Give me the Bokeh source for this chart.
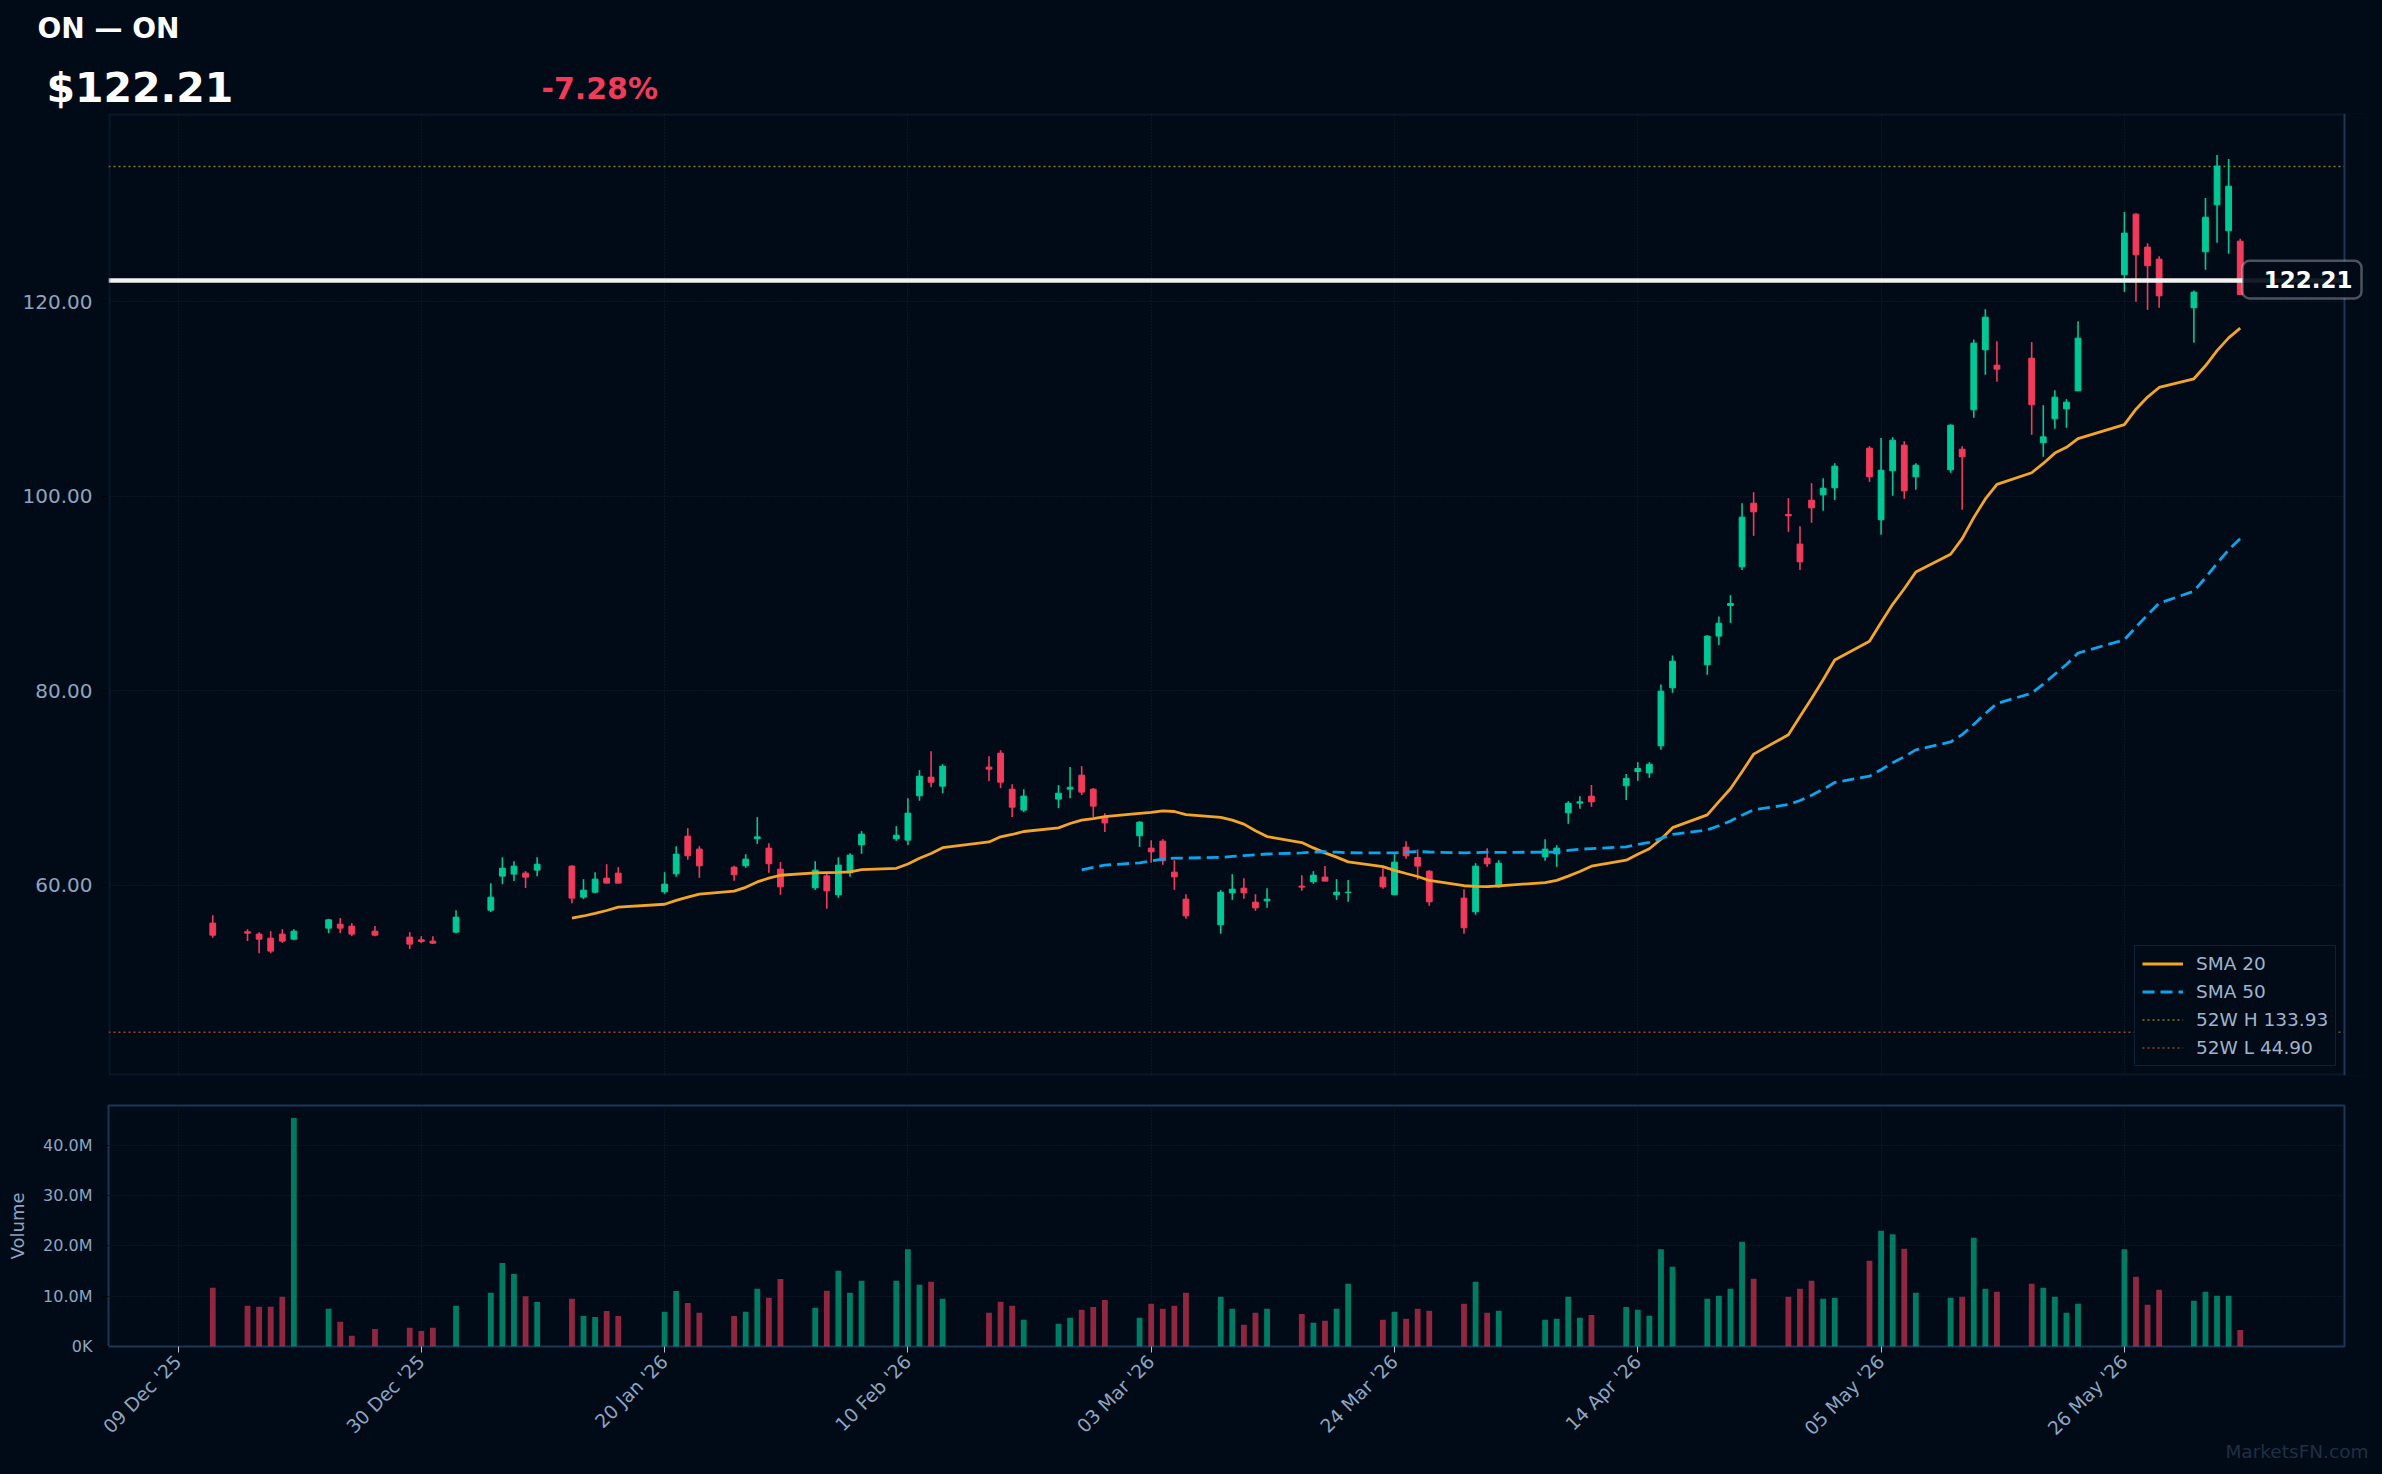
import numpy as np
import pandas as pd
from bokeh.plotting import figure
from bokeh.models import (ColumnDataSource, Range1d, FixedTicker, NumeralTickFormatter,
                          CustomJSTickFormatter, DatetimeTickFormatter, Label, Title,
                          BoxAnnotation, Span, Legend, LegendItem)
from bokeh.layouts import column
from bokeh.embed import file_html
from bokeh.resources import INLINE

# ---------------- data ----------------
ticker_symbol = "ON"
company_name = "ON"
last_price = 122.21
change_pct = -7.28
high_52w = 133.93
low_52w = 44.90

dates = [
    "2025-12-12", "2025-12-15", "2025-12-16", "2025-12-17", "2025-12-18", "2025-12-19",
    "2025-12-22", "2025-12-23", "2025-12-24", "2025-12-26", "2025-12-29", "2025-12-30", "2025-12-31",
    "2026-01-02", "2026-01-05", "2026-01-06", "2026-01-07", "2026-01-08", "2026-01-09",
    "2026-01-12", "2026-01-13", "2026-01-14", "2026-01-15", "2026-01-16",
    "2026-01-20", "2026-01-21", "2026-01-22", "2026-01-23",
    "2026-01-26", "2026-01-27", "2026-01-28", "2026-01-29", "2026-01-30",
    "2026-02-02", "2026-02-03", "2026-02-04", "2026-02-05", "2026-02-06",
    "2026-02-09", "2026-02-10", "2026-02-11", "2026-02-12", "2026-02-13",
    "2026-02-17", "2026-02-18", "2026-02-19", "2026-02-20",
    "2026-02-23", "2026-02-24", "2026-02-25", "2026-02-26", "2026-02-27",
    "2026-03-02", "2026-03-03", "2026-03-04", "2026-03-05", "2026-03-06",
    "2026-03-09", "2026-03-10", "2026-03-11", "2026-03-12", "2026-03-13",
    "2026-03-16", "2026-03-17", "2026-03-18", "2026-03-19", "2026-03-20",
    "2026-03-23", "2026-03-24", "2026-03-25", "2026-03-26", "2026-03-27",
    "2026-03-30", "2026-03-31", "2026-04-01", "2026-04-02",
    "2026-04-06", "2026-04-07", "2026-04-08", "2026-04-09", "2026-04-10",
    "2026-04-13", "2026-04-14", "2026-04-15", "2026-04-16", "2026-04-17",
    "2026-04-20", "2026-04-21", "2026-04-22", "2026-04-23", "2026-04-24",
    "2026-04-27", "2026-04-28", "2026-04-29", "2026-04-30", "2026-05-01",
    "2026-05-04", "2026-05-05", "2026-05-06", "2026-05-07", "2026-05-08",
    "2026-05-11", "2026-05-12", "2026-05-13", "2026-05-14", "2026-05-15",
    "2026-05-18", "2026-05-19", "2026-05-20", "2026-05-21", "2026-05-22",
    "2026-05-26", "2026-05-27", "2026-05-28", "2026-05-29",
    "2026-06-01", "2026-06-02", "2026-06-03", "2026-06-04", "2026-06-05",
]

opens = [
    56.13, 55.24, 55.00, 54.58, 55.00, 54.48,
    55.61, 56.02, 55.82, 55.30, 54.69, 54.41, 54.28,
    55.20, 57.46, 60.96, 61.17, 61.27, 61.58,
    61.99, 58.80, 59.31, 60.75, 61.27,
    59.35, 61.20, 65.07, 63.74,
    61.88, 62.02, 64.80, 63.84, 61.68,
    59.76, 60.99, 59.04, 61.30, 64.18,
    64.80, 64.66, 69.22, 71.14, 70.21,
    72.17, 73.61, 69.90, 67.75,
    68.88, 69.90, 71.34, 69.90, 67.00,
    65.11, 63.84, 64.56, 61.37, 58.59,
    55.95, 59.24, 59.72, 58.28, 58.42,
    59.93, 60.38, 60.86, 59.04, 59.27,
    60.86, 59.04, 63.94, 62.88, 61.47,
    58.70, 57.29, 62.81, 59.86,
    62.95, 63.25, 67.47, 68.47, 69.18,
    70.25, 71.72, 71.58, 74.36, 80.32,
    82.69, 85.64, 88.79, 92.76, 99.31,
    98.15, 95.10, 99.62, 100.17, 100.89,
    104.97, 97.60, 102.64, 105.28, 102.02,
    102.74, 104.86, 108.91, 115.08, 113.50,
    114.22, 105.52, 107.99, 109.01, 110.86,
    122.79, 129.03, 125.64, 124.40,
    119.40, 125.16, 129.99, 127.32, 126.25,
]
highs = [
    56.95, 55.51, 55.20, 55.30, 55.51, 55.51,
    56.57, 56.64, 56.13, 55.82, 55.20, 54.79, 54.79,
    57.46, 60.24, 62.91, 62.50, 61.47, 62.91,
    62.09, 60.65, 61.37, 62.19, 61.89,
    61.37, 64.04, 65.89, 64.04,
    62.02, 63.22, 67.03, 64.35, 62.40,
    62.50, 61.20, 62.91, 63.32, 65.59,
    66.10, 68.98, 71.86, 73.81, 72.47,
    73.30, 73.91, 70.42, 69.90,
    70.32, 72.17, 72.27, 70.01, 67.42,
    66.61, 64.66, 64.76, 62.60, 59.10,
    59.52, 61.16, 60.75, 59.10, 59.72,
    61.06, 61.47, 61.99, 60.65, 60.55,
    61.78, 63.22, 64.56, 63.71, 61.57,
    59.62, 62.29, 63.84, 62.60,
    64.76, 64.14, 68.67, 69.18, 70.33,
    71.45, 72.68, 72.68, 80.67, 83.65,
    85.74, 87.66, 89.85, 99.31, 100.44,
    99.83, 96.95, 101.37, 101.88, 103.42,
    105.17, 106.00, 106.10, 105.69, 103.42,
    107.43, 105.17, 116.14, 119.26, 115.97,
    115.87, 109.39, 110.93, 110.01, 118.03,
    129.24, 129.13, 126.05, 124.71,
    121.18, 130.68, 135.10, 134.69, 126.50,
]
lows = [
    54.62, 54.28, 53.04, 53.04, 54.10, 54.38,
    55.10, 55.10, 54.79, 54.79, 53.45, 54.07, 53.97,
    55.10, 57.26, 60.14, 60.45, 59.73, 60.96,
    58.18, 58.59, 59.21, 60.24, 60.24,
    59.14, 60.89, 62.64, 60.79,
    60.48, 61.82, 64.28, 61.30, 59.04,
    59.55, 57.60, 58.73, 60.89, 63.26,
    64.59, 64.15, 68.71, 70.11, 69.49,
    70.73, 70.01, 67.03, 67.54,
    67.95, 68.98, 69.29, 67.03, 65.50,
    63.97, 62.33, 62.12, 59.55, 56.57,
    55.03, 58.52, 58.63, 57.39, 57.70,
    59.45, 60.17, 60.45, 58.52, 58.32,
    59.66, 59.04, 62.74, 60.58, 57.91,
    55.03, 56.98, 61.92, 59.76,
    62.54, 61.92, 66.34, 67.88, 68.09,
    68.80, 70.76, 71.07, 73.95, 79.81,
    81.66, 84.74, 87.00, 92.45, 95.95,
    96.36, 92.45, 97.29, 98.52, 99.65,
    101.50, 96.06, 100.07, 99.76, 100.68,
    102.43, 98.63, 108.09, 112.51, 111.79,
    106.34, 104.08, 106.96, 107.06, 110.86,
    121.04, 120.02, 119.19, 119.40,
    115.80, 123.31, 126.08, 124.95, 120.77,
]
closes = [
    54.89, 55.10, 54.48, 53.25, 54.28, 55.30,
    56.47, 55.61, 55.00, 54.89, 53.97, 54.24, 54.07,
    56.74, 58.80, 61.78, 61.99, 60.86, 62.19,
    58.70, 59.52, 60.65, 60.24, 60.24,
    60.14, 63.22, 63.05, 62.02,
    61.10, 62.71, 65.00, 62.23, 59.86,
    61.58, 59.45, 62.09, 63.12, 65.28,
    65.17, 67.44, 71.24, 70.62, 72.27,
    71.96, 70.62, 68.05, 69.19,
    69.49, 70.10, 69.60, 68.16, 66.43,
    66.51, 63.46, 62.54, 60.89, 56.88,
    59.31, 59.62, 59.24, 57.70, 58.59,
    59.83, 61.06, 60.45, 59.31, 59.31,
    59.86, 62.40, 63.05, 61.99, 58.32,
    55.65, 61.99, 62.23, 62.29,
    63.74, 63.84, 68.46, 68.60, 68.60,
    71.00, 72.03, 72.47, 79.98, 83.06,
    85.64, 86.97, 88.99, 97.87, 98.42,
    98.01, 93.28, 98.83, 100.85, 103.12,
    102.02, 102.70, 105.79, 100.58, 103.22,
    107.33, 104.08, 115.77, 118.44, 113.09,
    109.43, 106.13, 110.21, 109.70, 116.28,
    127.08, 124.85, 123.72, 120.63,
    121.01, 128.72, 133.97, 131.91, 120.77,
]
volumes_m = [
    11.66, 8.08, 7.88, 7.88, 9.87, 45.40,
    7.48, 4.90, 2.12, 3.50, 3.70, 3.10, 3.70,
    8.08, 10.66, 16.60, 14.40, 10.00, 8.86,
    9.46, 6.08, 5.88, 7.07, 6.08,
    6.88, 11.00, 8.66, 6.68,
    6.08, 6.88, 11.46, 9.66, 13.40,
    7.68, 11.05, 15.03, 10.66, 13.04,
    13.04, 19.30, 12.25, 12.84, 9.46,
    6.68, 8.87, 8.07, 5.29,
    4.50, 5.69, 7.28, 7.87, 9.26,
    5.69, 8.47, 7.48, 8.07, 10.66,
    9.86, 7.48, 4.30, 6.68, 7.48,
    6.48, 4.70, 5.09, 7.48, 12.44,
    5.29, 6.88, 5.49, 7.48, 7.08,
    8.47, 12.84, 6.68, 7.08,
    5.29, 5.49, 9.86, 5.69, 6.28,
    7.87, 7.28, 6.09, 19.30, 15.82,
    9.46, 10.06, 11.45, 20.80, 13.44,
    9.86, 11.45, 13.04, 9.46, 9.66,
    17.01, 23.00, 22.30, 19.40, 10.66,
    9.66, 9.86, 21.60, 11.45, 10.86,
    12.44, 11.65, 9.86, 6.68, 8.47,
    19.30, 13.83, 8.27, 11.25,
    9.07, 10.86, 10.06, 10.06, 3.30,
]

tick_dates = ["2025-12-09", "2025-12-30", "2026-01-20", "2026-02-10", "2026-03-03",
              "2026-03-24", "2026-04-14", "2026-05-05", "2026-05-26"]
tick_labels = ["09 Dec '25", "30 Dec '25", "20 Jan '26", "10 Feb '26", "03 Mar '26",
               "24 Mar '26", "14 Apr '26", "05 May '26", "26 May '26"]
price_ticks = [60, 80, 100, 120]
volume_ticks = [0, 10000000, 20000000, 30000000, 40000000]
volume_tick_labels = ["0K", "10.0M", "20.0M", "30.0M", "40.0M"]

# ---------------- style ----------------
BG = "#010b17"
FRAME = "#1c3656"
GRID = "#142333"
LABEL = "#8da5c0"
TICK_DARK = "#000000"
GREEN = "#00c897"
RED = "#f23a5a"
ORANGE = "#f5a524"
CYAN = "#0ba5ec"
HI_COL = "#8c7a1a"
LO_COL = "#9a4628"
FONT = "DejaVu Sans"
DAY = 86400000.0
BG_STYLE = {"background-color": BG}

W = 2382
LEFT = 108
RIGHT = 38          # normal right border (frame ends at 2344)
MAIN_RIGHT = 16     # main frame extended so the price tag is not clipped
HEADER_H = 112
MAIN_H = 980
VOL_H = 382


def to_ms(s):
    return pd.Timestamp(s).value / 1e6


x = np.array([to_ms(d) for d in dates])
o = np.array(opens)
h = np.array(highs)
l = np.array(lows)
c = np.array(closes)
up = c >= o
src = ColumnDataSource(dict(
    x=x, top=np.maximum(o, c), bottom=np.minimum(o, c), high=h, low=l,
    color=np.where(up, GREEN, RED), vol=np.array(volumes_m) * 1e6,
))
sma20 = pd.Series(c).rolling(20).mean().to_numpy()
sma50 = pd.Series(c).rolling(50).mean().to_numpy()
tick_ms = [to_ms(d) for d in tick_dates]
tick_override = {int(t): lab for t, lab in zip(tick_ms, tick_labels)}

x_start = x[0] - 9 * DAY
x_end = x[-1] + 9 * DAY
frame_w = W - LEFT - RIGHT
main_frame_w = W - LEFT - MAIN_RIGHT
x_end_main = x_start + (x_end - x_start) * main_frame_w / frame_w
Y0, Y1 = 40.46, 139.38

# ---------------- header ----------------
header = figure(width=W, height=HEADER_H, x_range=Range1d(0, W), y_range=Range1d(HEADER_H, 0),
                toolbar_location=None, output_backend="svg", min_border=0,
                min_border_left=0, min_border_right=0, min_border_top=0, min_border_bottom=0,
                x_axis_location=None, y_axis_location=None, styles=BG_STYLE)
header.frame_align = False
header.grid.visible = False
header.outline_line_color = None
header.background_fill_color = BG
header.border_fill_color = BG
# text_baseline "middle": y is the vertical centre of the text line
header.add_layout(Label(x=37, y=28, text=f"{ticker_symbol} \u2014 {company_name}",
                        text_font=FONT, text_font_size="28px", text_font_style="bold",
                        text_color="#ffffff", text_baseline="middle"))
header.add_layout(Label(x=46, y=87, text=f"${last_price:.2f}",
                        text_font=FONT, text_font_size="41px", text_font_style="bold",
                        text_color="#ffffff", text_baseline="middle"))
header.add_layout(Label(x=541, y=88, text=f"{change_pct:+.2f}%",
                        text_font=FONT, text_font_size="30px", text_font_style="bold",
                        text_color=RED, text_baseline="middle"))

# ---------------- main price chart ----------------
main = figure(width=W, height=MAIN_H, x_axis_type="datetime",
              x_range=Range1d(x_start, x_end_main), y_range=Range1d(Y0, Y1),
              toolbar_location=None, output_backend="svg", x_axis_location=None,
              min_border_left=LEFT, min_border_right=MAIN_RIGHT, min_border_top=1,
              min_border_bottom=17, styles=BG_STYLE)
main.frame_align = False
main.background_fill_color = BG
main.border_fill_color = BG
main.outline_line_color = None

rh = main.line([x_start, x_end], [high_52w, high_52w], line_color=HI_COL, line_width=1.6,
               line_dash="2 3")
rl = main.line([x_start, x_end], [low_52w, low_52w], line_color=LO_COL, line_width=1.6,
               line_dash="2 3")

main.segment(x0="x", y0="low", x1="x", y1="high", source=src, line_color="color", line_width=1.6)
main.vbar(x="x", width=0.5 * DAY, top="top", bottom="bottom", source=src,
          fill_color="color", line_color="color", line_width=1)

main.line([x_start, x_end], [last_price, last_price], line_color="#f2f2f2", line_width=4.5)

r20 = main.line(x, sma20, line_color=ORANGE, line_width=2.8)
r50 = main.line(x, sma50, line_color=CYAN, line_width=2.8, line_dash="12 6")

# frame: left/top/bottom on the frame edges, then hide the extra strip, then the real right edge
main.add_layout(BoxAnnotation(left=x_start, right=x_end_main, bottom=Y0, top=Y1, fill_color=None,
                              fill_alpha=0, line_color=FRAME, line_width=4))
main.add_layout(BoxAnnotation(left=x_end, fill_color=BG, fill_alpha=1.0, line_color=None))
main.add_layout(Span(location=x_end, dimension="height", line_color=FRAME, line_width=2))

legend = Legend(items=[
    LegendItem(label="SMA 20", renderers=[r20]),
    LegendItem(label="SMA 50", renderers=[r50]),
    LegendItem(label=f"52W H {high_52w:.2f}", renderers=[rh]),
    LegendItem(label=f"52W L {low_52w:.2f}", renderers=[rl]),
], location=(2026, 9))
legend.margin = 0
legend.padding = 7
legend.spacing = 7
legend.glyph_width = 41
legend.glyph_height = 21
legend.label_height = 21
legend.label_standoff = 13
legend.background_fill_color = BG
legend.background_fill_alpha = 1.0
legend.border_line_color = FRAME
legend.border_line_width = 1.5
legend.label_text_color = "#9fb4cc"
legend.label_text_font = FONT
legend.label_text_font_size = "18.5px"
main.add_layout(legend)

# current-price tag
main.add_layout(BoxAnnotation(left=2134, right=2253, left_units="screen", right_units="screen",
                              top=124.23, bottom=120.36, fill_color=BG, fill_alpha=0.92,
                              line_color="#ffffff", line_width=2.5, border_radius=7))
main.add_layout(Label(x=2244, y=122.29, x_units="screen", y_units="data", text=f"{last_price:.2f}",
                      text_align="right", text_baseline="middle", text_font=FONT,
                      text_font_size="23px", text_font_style="bold", text_color="#ffffff"))

main.yaxis.ticker = FixedTicker(ticks=price_ticks)
main.yaxis.formatter = NumeralTickFormatter(format="0.00")
main.yaxis.major_label_text_font_size = "20px"
main.xgrid.ticker = FixedTicker(ticks=tick_ms)

# ---------------- volume chart ----------------
vol = figure(width=W, height=VOL_H, x_axis_type="datetime", x_range=Range1d(x_start, x_end),
             y_range=Range1d(0, 47.87e6), toolbar_location=None, output_backend="svg",
             min_border_left=LEFT, min_border_right=RIGHT, min_border_top=13,
             min_border_bottom=128, styles=BG_STYLE)
vol.frame_align = False
vol.background_fill_color = BG
vol.border_fill_color = BG
vol.outline_line_color = FRAME
vol.outline_line_width = 2
vol.vbar(x="x", width=0.5 * DAY, top="vol", bottom=0, source=src,
         fill_color="color", fill_alpha=0.6, line_color=None)

vol.yaxis.ticker = FixedTicker(ticks=volume_ticks)
vol.yaxis.formatter = CustomJSTickFormatter(
    code="return tick == 0 ? '0K' : (tick / 1e6).toFixed(1) + 'M';")
vol.yaxis.major_label_overrides = dict(zip(volume_ticks, volume_tick_labels))
vol.yaxis.major_label_text_font_size = "16px"
vol.yaxis.axis_label = "Volume"
vol.yaxis.axis_label_text_font = FONT
vol.yaxis.axis_label_text_font_size = "18px"
vol.yaxis.axis_label_text_font_style = "normal"
vol.yaxis.axis_label_text_color = LABEL
vol.yaxis.axis_label_standoff = 12

vol.xaxis.ticker = FixedTicker(ticks=tick_ms)
vol.xaxis.formatter = DatetimeTickFormatter(days="%d %b '%y", months="%d %b '%y",
                                            years="%d %b '%y")
vol.xaxis.major_label_overrides = tick_override
vol.xaxis.major_label_orientation = np.pi / 4
vol.xaxis.major_label_text_font_size = "18.75px"

vol.add_layout(Title(text="MarketsFN.com", align="right", offset=-24, standoff=-25,
                     text_font=FONT, text_font_size="18.5px", text_font_style="normal",
                     text_color="#1e3044"), "below")

for fig in (main, vol):
    for ax in fig.axis:
        ax.axis_line_color = None
        ax.minor_tick_line_color = None
        ax.major_tick_out = 6
        ax.major_tick_in = 0
        ax.major_label_text_color = LABEL
        ax.major_label_text_font = FONT
        ax.major_label_standoff = 10
        ax.major_tick_line_color = TICK_DARK
    fig.grid.grid_line_color = GRID
    fig.grid.grid_line_dash = "1 2"
    fig.grid.grid_line_width = 1
vol.xaxis.major_tick_line_color = "#b9c4d0"
vol.xaxis.major_label_standoff = 6

layout = column(header, main, vol, spacing=0, styles=BG_STYLE)
open("out.html", "w").write(file_html(layout, INLINE))
